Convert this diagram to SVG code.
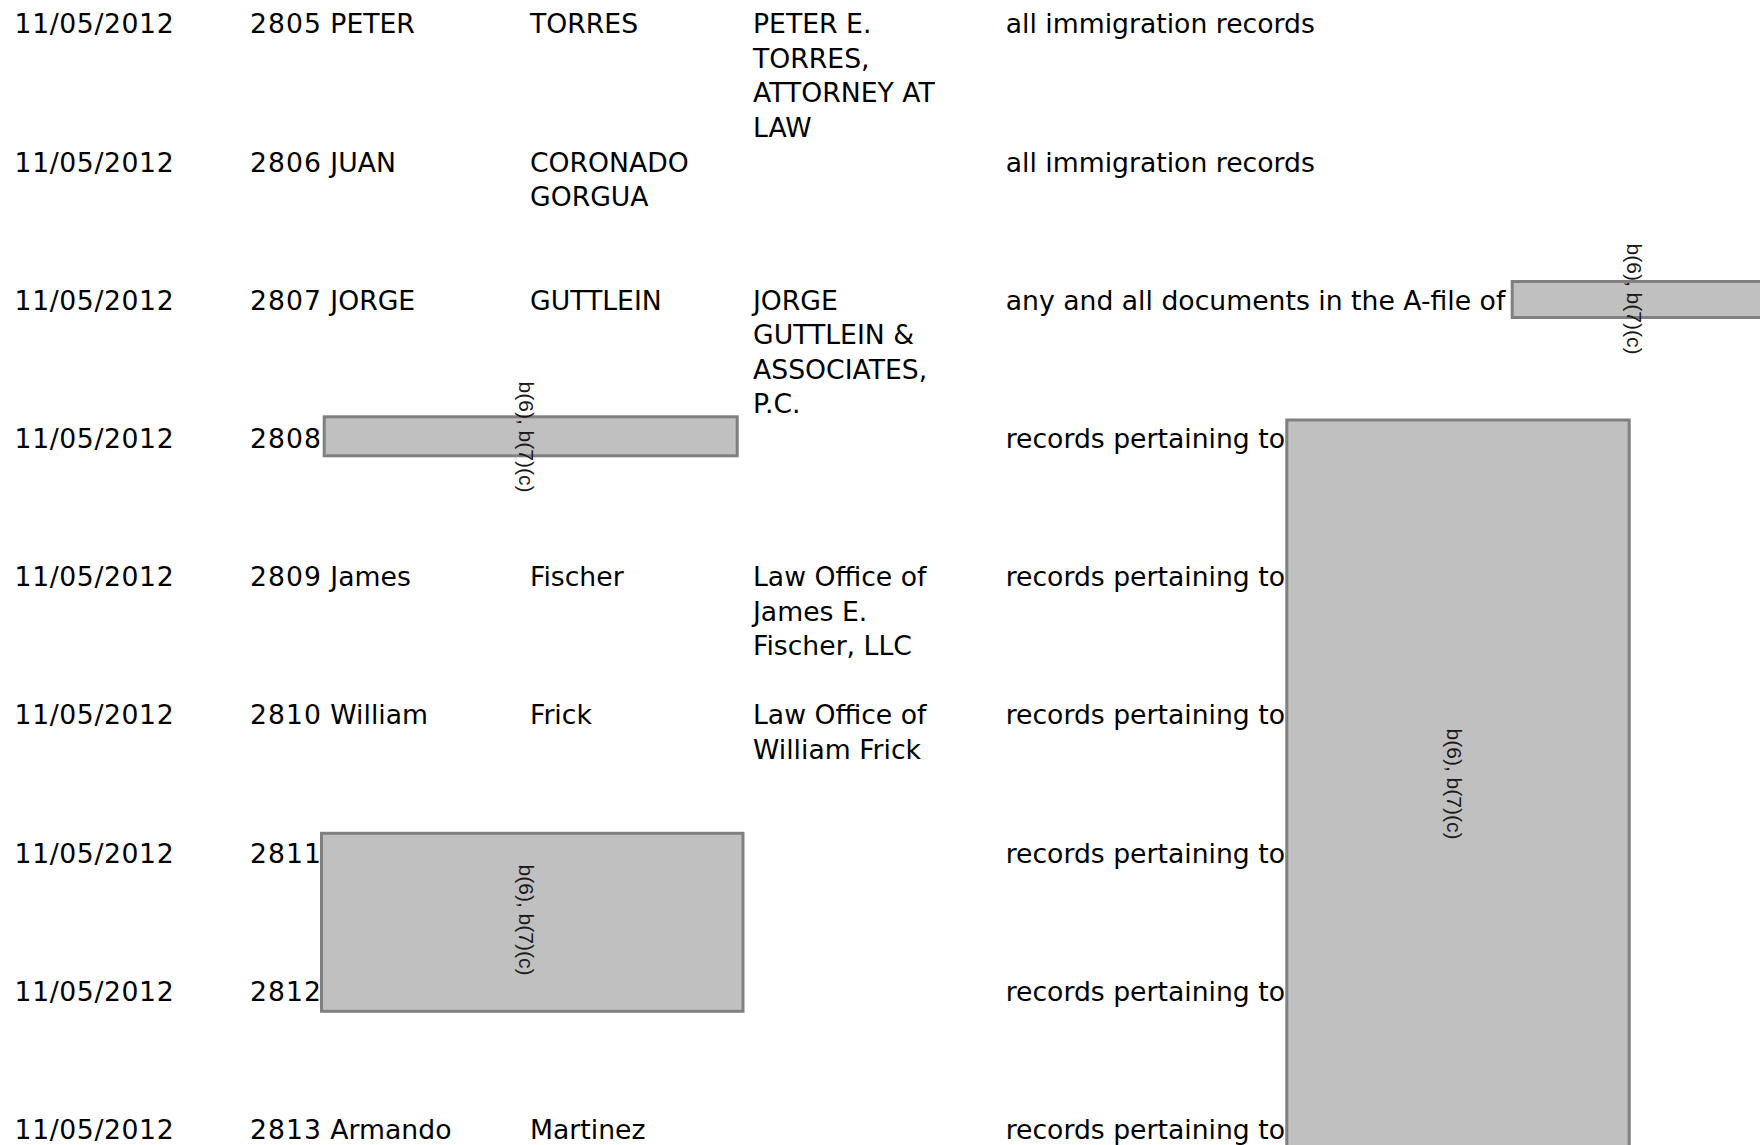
<svg xmlns="http://www.w3.org/2000/svg" width="1760" height="1145" viewBox="0 0 1760 1145">
<style>
  .t { font-family: "DejaVu Sans", Verdana, sans-serif; font-size: 26.67px; fill: #000; }
  .d { letter-spacing: 0.6px; }
  .n { letter-spacing: 1px; }
  .box { fill: #c0c0c0; stroke: #808080; stroke-width: 3; }
  .lbl { font-family: "Liberation Sans", Arial, sans-serif; font-size: 21px; fill: #1a1a1a; text-anchor: middle; dominant-baseline: central; }
</style>
<rect width="1760" height="1145" fill="#fff"/>
<g id="connectors"/>

<g id="row-2805">
  <text class="t d" x="14.6" y="33.3">11/05/2012</text>
  <text class="t" x="250" y="33.3"><tspan class="n">2805</tspan> PETER</text>
  <text class="t" x="530" y="33.3">TORRES</text>
  <text class="t" x="753" y="33.3">PETER E.</text>
  <text class="t" x="753" y="67.8">TORRES,</text>
  <text class="t" x="753" y="102.3">ATTORNEY AT</text>
  <text class="t" x="753" y="136.8">LAW</text>
  <text class="t" x="1005.7" y="33.3">all immigration records</text>
</g>

<g id="row-2806">
  <text class="t d" x="14.6" y="171.5">11/05/2012</text>
  <text class="t" x="250" y="171.5"><tspan class="n">2806</tspan> JUAN</text>
  <text class="t" x="530" y="171.5">CORONADO</text>
  <text class="t" x="530" y="206">GORGUA</text>
  <text class="t" x="1005.7" y="171.5">all immigration records</text>
</g>

<g id="row-2807">
  <text class="t d" x="14.6" y="309.7">11/05/2012</text>
  <text class="t" x="250" y="309.7"><tspan class="n">2807</tspan> JORGE</text>
  <text class="t" x="530" y="309.7">GUTTLEIN</text>
  <text class="t" x="753" y="309.7">JORGE</text>
  <text class="t" x="753" y="344.2">GUTTLEIN &amp;</text>
  <text class="t" x="753" y="378.7">ASSOCIATES,</text>
  <text class="t" x="753" y="413.2">P.C.</text>
  <text class="t" x="1005.7" y="309.7">any and all documents in the A-file of</text>
</g>

<g id="row-2808">
  <text class="t d" x="14.6" y="447.9">11/05/2012</text>
  <text class="t n" x="250" y="447.9">2808</text>
  <text class="t" x="1005.7" y="447.9">records pertaining to</text>
</g>

<g id="row-2809">
  <text class="t d" x="14.6" y="586.1">11/05/2012</text>
  <text class="t" x="250" y="586.1"><tspan class="n">2809</tspan> James</text>
  <text class="t" x="530" y="586.1">Fischer</text>
  <text class="t" x="753" y="586.1">Law Office of</text>
  <text class="t" x="753" y="620.6">James E.</text>
  <text class="t" x="753" y="655.1">Fischer, LLC</text>
  <text class="t" x="1005.7" y="586.1">records pertaining to</text>
</g>

<g id="row-2810">
  <text class="t d" x="14.6" y="724.3">11/05/2012</text>
  <text class="t" x="250" y="724.3"><tspan class="n">2810</tspan> William</text>
  <text class="t" x="530" y="724.3">Frick</text>
  <text class="t" x="753" y="724.3">Law Office of</text>
  <text class="t" x="753" y="758.8">William Frick</text>
  <text class="t" x="1005.7" y="724.3">records pertaining to</text>
</g>

<g id="row-2811">
  <text class="t d" x="14.6" y="862.5">11/05/2012</text>
  <text class="t n" x="250" y="862.5">2811</text>
  <text class="t" x="1005.7" y="862.5">records pertaining to</text>
</g>

<g id="row-2812">
  <text class="t d" x="14.6" y="1000.7">11/05/2012</text>
  <text class="t n" x="250" y="1000.7">2812</text>
  <text class="t" x="1005.7" y="1000.7">records pertaining to</text>
</g>

<g id="row-2813">
  <text class="t d" x="14.6" y="1138.9">11/05/2012</text>
  <text class="t" x="250" y="1138.9"><tspan class="n">2813</tspan> Armando</text>
  <text class="t" x="530" y="1138.9">Martinez</text>
  <text class="t" x="1005.7" y="1138.9">records pertaining to</text>
</g>

<g id="redaction-afile">
  <rect class="box" x="1512.2" y="281.5" width="262" height="36"/>
  <text class="lbl" transform="translate(1634,299) rotate(90)">b(6), b(7)(c)</text>
</g>

<g id="redaction-2808">
  <rect class="box" x="324.2" y="416.8" width="413" height="39"/>
  <text class="lbl" transform="translate(526,437) rotate(90)">b(6), b(7)(c)</text>
</g>

<g id="redaction-2811-2812">
  <rect class="box" x="321.5" y="833.3" width="421.5" height="178"/>
  <text class="lbl" transform="translate(526,920) rotate(90)">b(6), b(7)(c)</text>
</g>

<g id="redaction-records">
  <rect class="box" x="1286.8" y="420" width="342.4" height="740"/>
  <text class="lbl" transform="translate(1454,784) rotate(90)">b(6), b(7)(c)</text>
</g>
</svg>
